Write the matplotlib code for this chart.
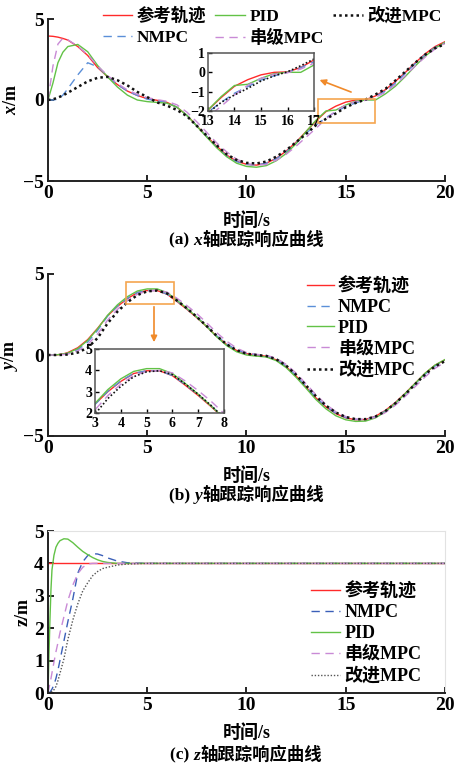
import matplotlib
matplotlib.use("Agg")
import matplotlib.pyplot as plt
from matplotlib.patches import Rectangle
from matplotlib.offsetbox import TextArea, HPacker, AnchoredOffsetbox

plt.rcParams['font.family'] = ['Liberation Serif', 'Noto Sans CJK SC', 'DejaVu Sans']
plt.rcParams['font.weight'] = 'bold'
plt.rcParams['mathtext.fontset'] = 'custom'
plt.rcParams['mathtext.it'] = 'Liberation Serif:italic:bold'
plt.rcParams['mathtext.rm'] = 'Liberation Serif:bold'
plt.rcParams['axes.unicode_minus'] = True

# ---------------- data ----------------
labels = ['参考轨迹', 'NMPC', 'PID', '串级MPC', '改进MPC']

t_xy = [0, 0.25, 0.5, 0.75, 1.0, 1.5, 2.0, 2.5, 3.0, 3.5, 4.0, 4.5, 5.0, 5.5, 6.0, 6.5,
        7.0, 7.5, 8.0, 8.5, 9.0, 9.5, 10.0, 10.5, 11.0, 11.5, 12.0, 12.5, 13.0, 13.5,
        14.0, 14.5, 15.0, 15.5, 16.0, 16.5, 17.0, 17.5, 18.0, 18.5, 19.0, 19.5, 20.0]

x_ref = [3.95, 3.93, 3.88, 3.8, 3.7, 3.3, 2.75, 2.0, 1.44, 0.95, 0.55, 0.28,
         0.08, -0.02, -0.15, -0.45, -0.95, -1.6, -2.25, -2.85, -3.4, -3.78, -3.97, -4.02, -3.9, -3.6, -3.15, -2.6,
         -1.95, -1.3, -0.72, -0.38, -0.13, 0.0, 0.02, 0.25, 0.64,
         1.15, 1.7, 2.3, 2.85, 3.3, 3.6]
x_nmpc = [0.0, 0.0, 0.05, 0.3, 0.7, 1.55, 2.3, 2.05, 1.45, 0.95, 0.55, 0.28,
          0.05, -0.05, -0.15, -0.45, -0.95, -1.6, -2.25, -2.9, -3.45, -3.8, -3.98, -4.02, -3.9, -3.62, -3.2, -2.65,
          -2.05, -1.55, -1.08, -0.74, -0.4, -0.18, 0.0, 0.24, 0.55,
          1.05, 1.65, 2.25, 2.8, 3.25, 3.55]
x_pid = [0.0, 1.05, 2.3, 2.95, 3.3, 3.43, 2.98, 2.13, 1.43, 0.8, 0.3, 0.0,
         -0.1, -0.15, -0.2, -0.45, -0.95, -1.62, -2.3, -2.95, -3.5, -3.9, -4.1, -4.15, -4.05, -3.75, -3.3, -2.7,
         -1.95, -1.25, -0.68, -0.62, -0.31, -0.07, 0.0, 0.0, 0.38,
         0.85, 1.45, 2.1, 2.7, 3.2, 3.55]
x_casc = [0.0, 2.1, 3.45, 3.82, 3.72, 3.32, 2.8, 2.1, 1.52, 1.02, 0.62, 0.35,
          0.15, 0.02, -0.08, -0.3, -0.75, -1.35, -2.0, -2.65, -3.2, -3.65, -3.92, -4.02, -3.98, -3.72, -3.35, -2.85,
          -2.3, -1.75, -1.17, -0.67, -0.31, -0.1, -0.02, 0.17, 0.47,
          0.95, 1.5, 2.1, 2.65, 3.15, 3.5]
x_imp = [0.0, 0.04, 0.15, 0.28, 0.45, 0.8, 1.15, 1.37, 1.43, 1.22, 0.9, 0.5,
         0.18, -0.15, -0.35, -0.62, -1.0, -1.6, -2.2, -2.8, -3.35, -3.7, -3.88, -3.92, -3.8, -3.5, -3.1, -2.6,
         -2.1, -1.55, -1.17, -0.83, -0.45, -0.18, 0.03, 0.34, 0.69,
         1.2, 1.75, 2.3, 2.8, 3.2, 3.45]

y_ref = [0, 0.0, 0.02, 0.06, 0.15, 0.45, 0.95, 1.65, 2.42, 3.0, 3.48, 3.85, 3.98, 3.98, 3.75, 3.3,
         2.82, 2.3, 1.75, 1.15, 0.65, 0.28, 0.08, 0.0, -0.08, -0.3, -0.72, -1.3, -1.98, -2.65,
         -3.2, -3.62, -3.88, -4.0, -3.98, -3.78, -3.42, -2.93, -2.36, -1.74, -1.13, -0.63, -0.3]
y_nmpc = [0, 0.0, 0.01, 0.04, 0.1, 0.33, 0.8, 1.52, 2.4, 3.02, 3.5, 3.86, 3.98, 3.98, 3.76, 3.33,
          2.85, 2.34, 1.78, 1.18, 0.68, 0.31, 0.1, 0.02, -0.06, -0.28, -0.7, -1.27, -1.95, -2.62,
          -3.18, -3.6, -3.86, -3.98, -3.98, -3.8, -3.45, -2.97, -2.4, -1.78, -1.18, -0.68, -0.35]
y_pid = [0, 0.0, 0.02, 0.05, 0.12, 0.4, 0.9, 1.62, 2.45, 3.1, 3.6, 3.95, 4.08, 4.08, 3.85, 3.38,
         2.88, 2.33, 1.75, 1.12, 0.58, 0.2, 0.0, -0.07, -0.12, -0.35, -0.78, -1.38, -2.05, -2.75,
         -3.32, -3.75, -4.0, -4.1, -4.08, -3.88, -3.5, -2.98, -2.38, -1.75, -1.12, -0.62, -0.28]
y_casc = [0, 0.0, 0.01, 0.02, 0.06, 0.25, 0.65, 1.3, 2.15, 2.82, 3.35, 3.75, 3.95, 4.0, 3.88, 3.5,
          3.05, 2.55, 1.98, 1.38, 0.85, 0.43, 0.15, 0.04, -0.02, -0.2, -0.58, -1.12, -1.78, -2.45,
          -3.05, -3.5, -3.8, -3.95, -3.98, -3.85, -3.55, -3.1, -2.55, -1.95, -1.35, -0.82, -0.45]
y_imp = [0, 0.0, 0.0, 0.01, 0.03, 0.15, 0.45, 1.05, 1.95, 2.68, 3.25, 3.7, 3.93, 3.98, 3.8, 3.36,
         2.88, 2.35, 1.78, 1.18, 0.66, 0.3, 0.08, 0.0, -0.06, -0.26, -0.66, -1.22, -1.88, -2.55,
         -3.12, -3.55, -3.83, -3.96, -3.96, -3.8, -3.46, -2.98, -2.42, -1.8, -1.2, -0.7, -0.38]

t_z = [0, 0.05, 0.1, 0.15, 0.2, 0.3, 0.4, 0.5, 0.6, 0.8, 1.0, 1.25, 1.5, 1.75, 2.0, 2.25,
       2.5, 2.75, 3.0, 3.5, 4.0, 5.0, 10.0, 15.0, 20.0]
z_ref = [4.0, 4.0, 4.0, 4.0, 4.0, 4.0, 4.0, 4.0, 4.0, 4.0, 4.0, 4.0, 4.0, 4.0, 4.0, 4.0,
         4.0, 4.0, 4.0, 4.0, 4.0, 4.0, 4.0, 4.0, 4.0]
z_nmpc = [0, 0.01, 0.03, 0.07, 0.12, 0.25, 0.45, 0.7, 1.0, 1.6, 2.2, 2.9, 3.7, 4.05, 4.24, 4.3,
          4.29, 4.24, 4.17, 4.07, 4.02, 4.0, 4.0, 4.0, 4.0]
z_pid = [0, 1.2, 2.3, 3.2, 3.8, 4.25, 4.5, 4.62, 4.7, 4.76, 4.75, 4.64, 4.5, 4.37, 4.27, 4.18,
         4.11, 4.06, 4.03, 4.0, 4.0, 4.0, 4.0, 4.0, 4.0]
z_casc = [0, 0.15, 0.3, 0.45, 0.62, 0.95, 1.27, 1.55, 1.85, 2.35, 2.85, 3.33, 3.68, 3.88, 3.98, 4.0,
          4.0, 4.0, 4.0, 4.0, 4.0, 4.0, 4.0, 4.0, 4.0]
z_imp = [0, 0.0, 0.01, 0.03, 0.05, 0.1, 0.2, 0.38, 0.6, 1.05, 1.65, 2.25, 2.75, 3.15, 3.4, 3.62,
         3.75, 3.84, 3.88, 3.95, 3.98, 4.0, 4.0, 4.0, 4.0]

captions = [('(a) ', 'x', '轴跟踪响应曲线'), ('(b) ', 'y', '轴跟踪响应曲线'), ('(c) ', 'z', '轴跟踪响应曲线')]

# ---------------- styles ----------------
C_REF = '#ff2a2a'
C_NMPC = '#5b8fd8'
C_PID = '#62c246'
C_CASC = '#c98ad6'
C_IMP = '#111111'
ORANGE = '#f5a54f'
FS = 13
LFS = 12.5
TFS = 14


def draw_series(ax, t, ser, lw=1.0, imp_lw=1.8, nmpc_color=C_NMPC, imp_color=C_IMP):
    ref, nmpc, pid, casc, imp = ser
    ax.plot(t, ref, color=C_REF, lw=lw, label=labels[0])
    ax.plot(t, nmpc, color=nmpc_color, lw=lw, dashes=(6, 4), label=labels[1])
    ax.plot(t, pid, color=C_PID, lw=lw, label=labels[2])
    ax.plot(t, casc, color=C_CASC, lw=lw, dashes=(6, 4), label=labels[3])
    ax.plot(t, imp, color=imp_color, lw=imp_lw, linestyle=(0, (1, 1.3)), label=labels[4])


def style_main(ax, ylim, yticks, box=False):
    ax.set_xlim(0, 20)
    ax.set_ylim(*ylim)
    ax.set_xticks([0, 5, 10, 15, 20])
    ax.set_yticks(yticks)
    ax.tick_params(direction='in', length=4, width=1.2, labelsize=TFS, pad=3)
    for lab in ax.get_xticklabels() + ax.get_yticklabels():
        lab.set_fontweight('bold')
    for s in ['left', 'bottom']:
        ax.spines[s].set_linewidth(1.4)
        ax.spines[s].set_color('#222222')
    if box:
        for s in ['top', 'right']:
            ax.spines[s].set_color('#e2e2e2')
            ax.spines[s].set_linewidth(0.8)
    else:
        ax.spines['top'].set_visible(False)
        ax.spines['right'].set_visible(False)
    ax.set_xlabel('时间/s', fontsize=FS, fontweight='bold', labelpad=7)


def style_inset(ax, xlim, ylim, xt, yt):
    ax.set_xlim(*xlim)
    ax.set_ylim(*ylim)
    ax.set_xticks(xt)
    ax.set_yticks(yt)
    ax.tick_params(direction='in', length=3, width=1, labelsize=10)
    ax.tick_params(axis='x', pad=3)
    ax.tick_params(axis='y', pad=2)
    for lab in ax.get_xticklabels() + ax.get_yticklabels():
        lab.set_fontweight('bold')
    for s in ax.spines.values():
        s.set_color('#555555')
        s.set_linewidth(1.1)


W, H = 456, 765
fig = plt.figure(figsize=(W / 100, H / 100), dpi=100)


def rect(l, t, r, b):
    return [l / W, 1 - b / H, (r - l) / W, (b - t) / H]


def caption(ypix, parts):
    prefix, letter, rest = parts
    tp = dict(fontsize=12.5, fontweight='bold')
    ta1 = TextArea(prefix, textprops=tp)
    ta2 = TextArea(letter, textprops=dict(tp, style='italic'))
    ta3 = TextArea(rest, textprops=tp)
    box = HPacker(children=[ta1, ta2, ta3], align='baseline', pad=0, sep=0)
    ab = AnchoredOffsetbox(loc='center', child=box, bbox_to_anchor=(0.54, 1 - ypix / H),
                           bbox_transform=fig.transFigure, frameon=False, pad=0, borderpad=0)
    fig.add_artist(ab)


# ---------- panel (a) ----------
ax1 = fig.add_axes(rect(48, 19, 445, 181))
draw_series(ax1, t_xy, [x_ref, x_nmpc, x_pid, x_casc, x_imp])
style_main(ax1, (-5, 5), [-5, 0, 5])
ax1.set_ylabel('$x$/m', fontsize=FS, fontweight='bold', labelpad=2)
ax1.legend(ncol=3, loc='upper left', bbox_to_anchor=(0.12, 1.115), frameon=False,
           fontsize=LFS, handlelength=1.7, handletextpad=0.25, columnspacing=0.55,
           labelspacing=0.3, borderaxespad=0)
ax1.add_patch(Rectangle((13.6, -1.42), 2.87, 1.48, fill=False, edgecolor=ORANGE, lw=1.2, zorder=5))
ax1.annotate('', xy=(13.55, 1.3), xytext=(15.4, 0.43),
             arrowprops=dict(arrowstyle='-|>', color='#f08a2a', lw=1.2, mutation_scale=9))

in1 = fig.add_axes(rect(208, 53, 314, 111))
draw_series(in1, t_xy, [x_ref, x_nmpc, x_pid, x_casc, x_imp], lw=1.0, imp_lw=1.2)
style_inset(in1, (13, 17), (-2, 1), [13, 14, 15, 16, 17], [-2, -1, 0, 1])

caption(240, captions[0])

# ---------- panel (b) ----------
ax2 = fig.add_axes(rect(48, 274, 445, 436))
draw_series(ax2, t_xy, [y_ref, y_nmpc, y_pid, y_casc, y_imp])
style_main(ax2, (-5, 5), [-5, 0, 5])
ax2.set_ylabel('$y$/m', fontsize=FS, fontweight='bold', labelpad=2)
ax2.legend(loc='upper left', bbox_to_anchor=(0.635, 1.025), frameon=False, fontsize=FS,
           handlelength=1.5, handletextpad=0.2, labelspacing=0.2, borderaxespad=0)
ax2.add_patch(Rectangle((3.93, 3.15), 2.42, 1.35, fill=False, edgecolor=ORANGE, lw=1.2, zorder=5))
ax2.annotate('', xy=(5.34, 0.62), xytext=(5.34, 3.15),
             arrowprops=dict(arrowstyle='-|>', color='#f08a2a', lw=1.2, mutation_scale=9))

in2 = fig.add_axes(rect(95, 349, 224, 413))
draw_series(in2, t_xy, [y_ref, y_nmpc, y_pid, y_casc, y_imp], lw=1.0, imp_lw=1.2)
style_inset(in2, (3, 8), (2, 5), [3, 4, 5, 6, 7, 8], [2, 3, 4, 5])

caption(495, captions[1])

# ---------- panel (c) ----------
ax3 = fig.add_axes(rect(48, 531, 445, 693))
draw_series(ax3, t_z, [z_ref, z_nmpc, z_pid, z_casc, z_imp], lw=1.0, imp_lw=1.0,
            nmpc_color='#3a5fb8', imp_color='#555555')
style_main(ax3, (0, 5), [0, 1, 2, 3, 4, 5], box=True)
ax3.set_ylabel('z/m', fontsize=FS, fontweight='bold', labelpad=2)
ax3.legend(loc='upper left', bbox_to_anchor=(0.645, 0.73), frameon=False, fontsize=FS,
           handlelength=1.6, handletextpad=0.25, labelspacing=0.22, borderaxespad=0)

caption(755, captions[2])

fig.savefig('out.png', dpi=100)
